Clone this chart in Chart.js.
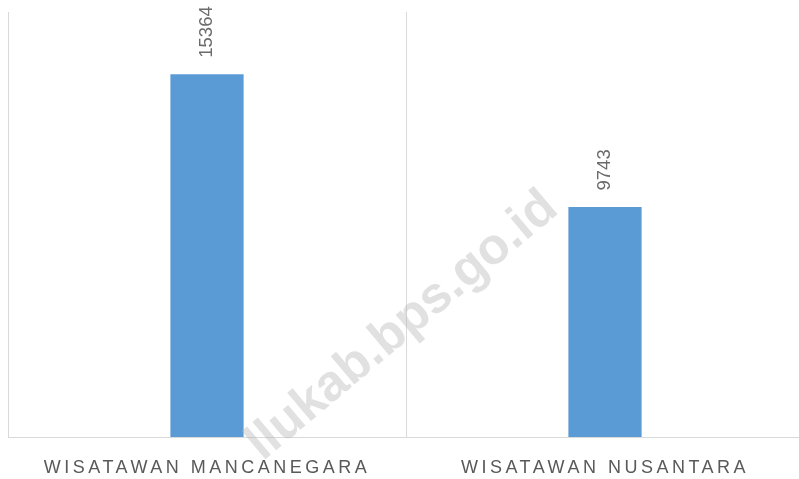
<!DOCTYPE html>
<html>
<head>
<meta charset="utf-8">
<script src="https://cdn.jsdelivr.net/npm/chart.js@4"></script>
<style>
    html, body { margin: 0; padding: 0; background: #ffffff; overflow: hidden; }
    /* the plot runs a few pixels past the right edge of the picture */
    #wrap { width: 805px; height: 479px; position: relative; }
</style>
</head>
<body>
<div id="wrap"><canvas id="chart"></canvas></div>
<script>
// Data
const categories = ['WISATAWAN MANCANEGARA', 'WISATAWAN NUSANTARA'];
const visitors = [15364, 9743];
const yMax = 18000;
const watermarkText = 'llukab.bps.go.id';

// Excel-like spaced category labels: letter spacing only while the axes are drawn
const letterSpacingPlugin = {
    id: 'letterSpacing',
    beforeDraw(chart) { chart.ctx.letterSpacing = '3.5px'; },
    beforeDatasetsDraw(chart) { chart.ctx.letterSpacing = '0px'; }
};

// Value labels above the bars, rotated
const valueLabels = {
    id: 'valueLabels',
    afterDatasetsDraw(chart) {
        const ctx = chart.ctx;
        const meta = chart.getDatasetMeta(0);
        ctx.save();
        ctx.font = '18.5px "Liberation Sans"';
        ctx.fillStyle = '#6b6b6b';
        ctx.textAlign = 'left';
        ctx.textBaseline = 'middle';
        meta.data.forEach((bar, i) => {
            ctx.save();
            ctx.translate(bar.x, bar.y - 16.5);
            ctx.rotate(-Math.PI / 2);
            ctx.fillText(String(visitors[i]), 0, 0);
            ctx.restore();
        });
        ctx.restore();
    }
};

// Diagonal watermark
const watermark = {
    id: 'watermark',
    afterDraw(chart) {
        const ctx = chart.ctx;
        ctx.save();
        ctx.translate(560, 212);
        ctx.rotate(-40 * Math.PI / 180);
        ctx.font = 'bold 51px "Liberation Sans"';
        ctx.fillStyle = 'rgba(180, 180, 180, 0.4)';
        ctx.textAlign = 'right';
        ctx.textBaseline = 'alphabetic';
        ctx.fillText(watermarkText, 0, 0);
        ctx.restore();
    }
};

new Chart(document.getElementById('chart').getContext('2d'), {
    type: 'bar',
    data: {
        labels: categories,
        datasets: [{
            data: visitors,
            backgroundColor: '#5b9bd5',
            borderWidth: 0,
            barPercentage: 0.184,
            categoryPercentage: 1
        }]
    },
    options: {
        responsive: true,
        maintainAspectRatio: false,
        animation: false,
        events: [],
        layout: {
            padding: { top: 12, left: 8, right: 1, bottom: 0 }
        },
        plugins: {
            legend: { display: false },
            tooltip: { enabled: false }
        },
        scales: {
            x: {
                afterFit(scale) { scale.height = 42; },
                grid: {
                    offset: true,
                    color: '#d9d9d9',
                    lineWidth: 1,
                    drawTicks: false
                },
                border: { color: '#d9d9d9', width: 1 },
                ticks: {
                    autoSkip: false,
                    maxRotation: 0,
                    padding: 20,
                    color: '#595959',
                    font: { family: 'Liberation Sans', size: 18 }
                }
            },
            y: {
                display: false,
                min: 0,
                max: yMax
            }
        }
    },
    plugins: [letterSpacingPlugin, valueLabels, watermark]
});
</script>
</body>
</html>
